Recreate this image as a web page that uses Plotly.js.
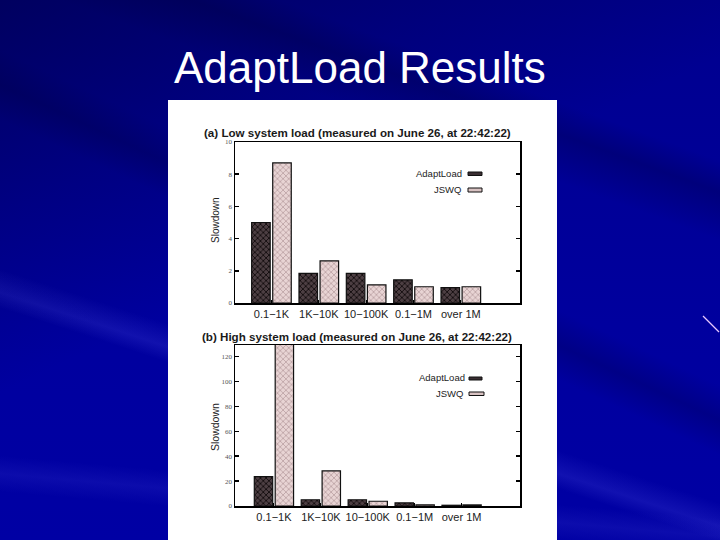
<!DOCTYPE html>
<html>
<head>
<meta charset="utf-8">
<script src="https://cdn.plot.ly/plotly-3.0.1.min.js"></script>
<style>
html,body{margin:0;padding:0;width:720px;height:540px;overflow:hidden;background:#00009c;}
#bg{position:absolute;left:0;top:0;width:720px;height:540px;
  background:
    linear-gradient(155deg, rgba(0,0,50,0.5) 0%, rgba(0,0,50,0.2) 25%, rgba(0,0,50,0) 45%),
    linear-gradient(200deg, rgba(0,0,60,0) 20%, rgba(0,0,60,0.3) 24%, rgba(0,0,60,0) 30%),
    linear-gradient(18deg, rgba(70,70,220,0) 30%, rgba(70,70,220,0.25) 32%, rgba(70,70,220,0) 35%),
    linear-gradient(25deg, rgba(0,0,60,0) 48%, rgba(0,0,60,0.25) 52%, rgba(0,0,60,0) 56%),
    linear-gradient(5deg, rgba(60,60,210,0) 8%, rgba(60,60,210,0.2) 11%, rgba(60,60,210,0) 14%),
    linear-gradient(180deg, #00008e 0%, #00009e 60%, #0000a4 100%);}
#panel{position:absolute;left:168px;top:100px;width:389px;height:440px;background:#ffffff;}
#chart{position:absolute;left:0;top:0;width:720px;height:540px;}
</style>
</head>
<body>
<div id="bg"></div>
<div id="panel"></div>
<div id="chart"></div>
<script>
// ---- data ----
const categories = ['0.1\u22121K', '1K\u221210K', '10\u2212100K', '0.1\u22121M', 'over 1M'];
const seriesNames = ['AdaptLoad', 'JSWQ'];
const lowAdaptLoad = [5.0, 1.84, 1.84, 1.44, 0.95];
const lowJSWQ = [8.7, 2.62, 1.13, 1.01, 1.01];
const highAdaptLoad = [23.6, 5.0, 5.0, 2.5, 0.6];
const highJSWQ = [135, 28.2, 3.8, 1.0, 0.9];
const lowTicks = [0, 2, 4, 6, 8, 10];
const highTicks = [0, 20, 40, 60, 80, 100, 120];

// ---- styles ----
const alStyle = {color: '#3d3034', line: {color: '#111', width: 1.2},
  pattern: {shape: 'x', size: 4, solidity: 0.4, fgcolor: '#120c0e', bgcolor: '#4d3f43', fillmode: 'replace'}};
const jsStyle = {color: '#e0caca', line: {color: '#111', width: 1.2},
  pattern: {shape: 'x', size: 4, solidity: 0.3, fgcolor: '#b09496', bgcolor: '#e8d4d4', fillmode: 'replace'}};

function bar(y, name, style, xa, ya) {
  return {type: 'bar', x: categories, y: y, name: name, marker: style,
    xaxis: xa, yaxis: ya, showlegend: false, hoverinfo: 'skip'};
}

const data = [
  bar(lowAdaptLoad, seriesNames[0], alStyle, 'x', 'y'),
  bar(lowJSWQ, seriesNames[1], jsStyle, 'x', 'y'),
  bar(highAdaptLoad, seriesNames[0], alStyle, 'x2', 'y2'),
  bar(highJSWQ, seriesNames[1], jsStyle, 'x2', 'y2')
];

const sans = 'Liberation Sans, Arial, sans-serif';
const xCommon = {type: 'category', showline: true, linecolor: '#000', linewidth: 1.5,
  mirror: true, ticks: 'inside', ticklen: 3, tickcolor: '#000', tickwidth: 1,
  showgrid: false, zeroline: false, fixedrange: true,
  tickfont: {family: sans, size: 11, color: '#222'}};
const yCommon = {showline: true, linecolor: '#000', linewidth: 1.5, mirror: 'ticks',
  ticks: 'inside', ticklen: 4, tickwidth: 1.5, tickcolor: '#000',
  showgrid: false, zeroline: false, fixedrange: true,
  tickfont: {family: 'Liberation Serif, serif', size: 7, color: '#555'}};

function P(px) { return px / 720; }
function Q(py) { return 1 - py / 540; }

const layout = {
  width: 720, height: 540,
  margin: {l: 0, r: 0, t: 0, b: 0},
  paper_bgcolor: 'rgba(0,0,0,0)', plot_bgcolor: '#ffffff',
  barmode: 'group', bargap: 0.11, bargroupgap: 0.12,
  xaxis: Object.assign({}, xCommon, {domain: [P(235), P(520)], range: [-0.77, 5.25], anchor: 'y'}),
  yaxis: Object.assign({}, yCommon, {domain: [Q(303), Q(142)], range: [0, 10], tickvals: lowTicks, anchor: 'x'}),
  xaxis2: Object.assign({}, xCommon, {domain: [P(235), P(520)], range: [-0.83, 5.245], anchor: 'y2'}),
  yaxis2: Object.assign({}, yCommon, {domain: [Q(506), Q(345)], range: [0, 129.3], tickvals: highTicks, anchor: 'x2'}),
  annotations: [
    {text: 'AdaptLoad Results', xref: 'paper', yref: 'paper', x: P(360), y: Q(68),
      xanchor: 'center', yanchor: 'middle', showarrow: false,
      font: {family: sans, size: 44, color: '#ffffff'}},
    {text: '<b>(a) Low system load (measured on June 26, at 22:42:22)</b>', xref: 'paper', yref: 'paper',
      x: P(357), y: Q(133), xanchor: 'center', yanchor: 'middle', showarrow: false,
      font: {family: sans, size: 11.6, color: '#1a1a1a'}},
    {text: '<b>(b) High system load (measured on June 26, at 22:42:22)</b>', xref: 'paper', yref: 'paper',
      x: P(357), y: Q(336), xanchor: 'center', yanchor: 'middle', showarrow: false,
      font: {family: sans, size: 11.6, color: '#1a1a1a'}},
    {text: 'Slowdown', xref: 'paper', yref: 'paper', x: P(215), y: Q(220), textangle: -90,
      xanchor: 'center', yanchor: 'middle', showarrow: false,
      font: {family: sans, size: 10, color: '#222'}},
    {text: 'Slowdown', xref: 'paper', yref: 'paper', x: P(215), y: Q(427), textangle: -90,
      xanchor: 'center', yanchor: 'middle', showarrow: false,
      font: {family: sans, size: 10.5, color: '#222'}},
    {text: seriesNames[0], xref: 'paper', yref: 'paper', x: P(464), y: Q(173),
      xanchor: 'right', yanchor: 'middle', showarrow: false,
      font: {family: sans, size: 9.5, color: '#222'}},
    {text: seriesNames[1], xref: 'paper', yref: 'paper', x: P(463), y: Q(189),
      xanchor: 'right', yanchor: 'middle', showarrow: false,
      font: {family: sans, size: 9.5, color: '#222'}},
    {text: seriesNames[0], xref: 'paper', yref: 'paper', x: P(467), y: Q(377),
      xanchor: 'right', yanchor: 'middle', showarrow: false,
      font: {family: sans, size: 9.5, color: '#222'}},
    {text: seriesNames[1], xref: 'paper', yref: 'paper', x: P(465), y: Q(393),
      xanchor: 'right', yanchor: 'middle', showarrow: false,
      font: {family: sans, size: 9.5, color: '#222'}}
  ],
  shapes: [
    {type: 'rect', xref: 'paper', yref: 'paper', x0: P(468), x1: P(482), y0: Q(175.5), y1: Q(172),
      fillcolor: '#3a2e32', line: {color: '#111', width: 1}},
    {type: 'rect', xref: 'paper', yref: 'paper', x0: P(468), x1: P(482), y0: Q(192), y1: Q(188),
      fillcolor: '#d8c2c2', line: {color: '#111', width: 1}},
    {type: 'rect', xref: 'paper', yref: 'paper', x0: P(469), x1: P(482), y0: Q(380), y1: Q(377),
      fillcolor: '#3a2e32', line: {color: '#111', width: 1}},
    {type: 'rect', xref: 'paper', yref: 'paper', x0: P(469), x1: P(484), y0: Q(395.5), y1: Q(392),
      fillcolor: '#d8c2c2', line: {color: '#111', width: 1}},
    {type: 'line', xref: 'paper', yref: 'paper', x0: P(703), y0: Q(316), x1: P(719), y1: Q(332),
      line: {color: '#e8c8ff', width: 1.2}}
  ]
};

Plotly.newPlot('chart', data, layout, {staticPlot: true, displayModeBar: false});
</script>
</body>
</html>
